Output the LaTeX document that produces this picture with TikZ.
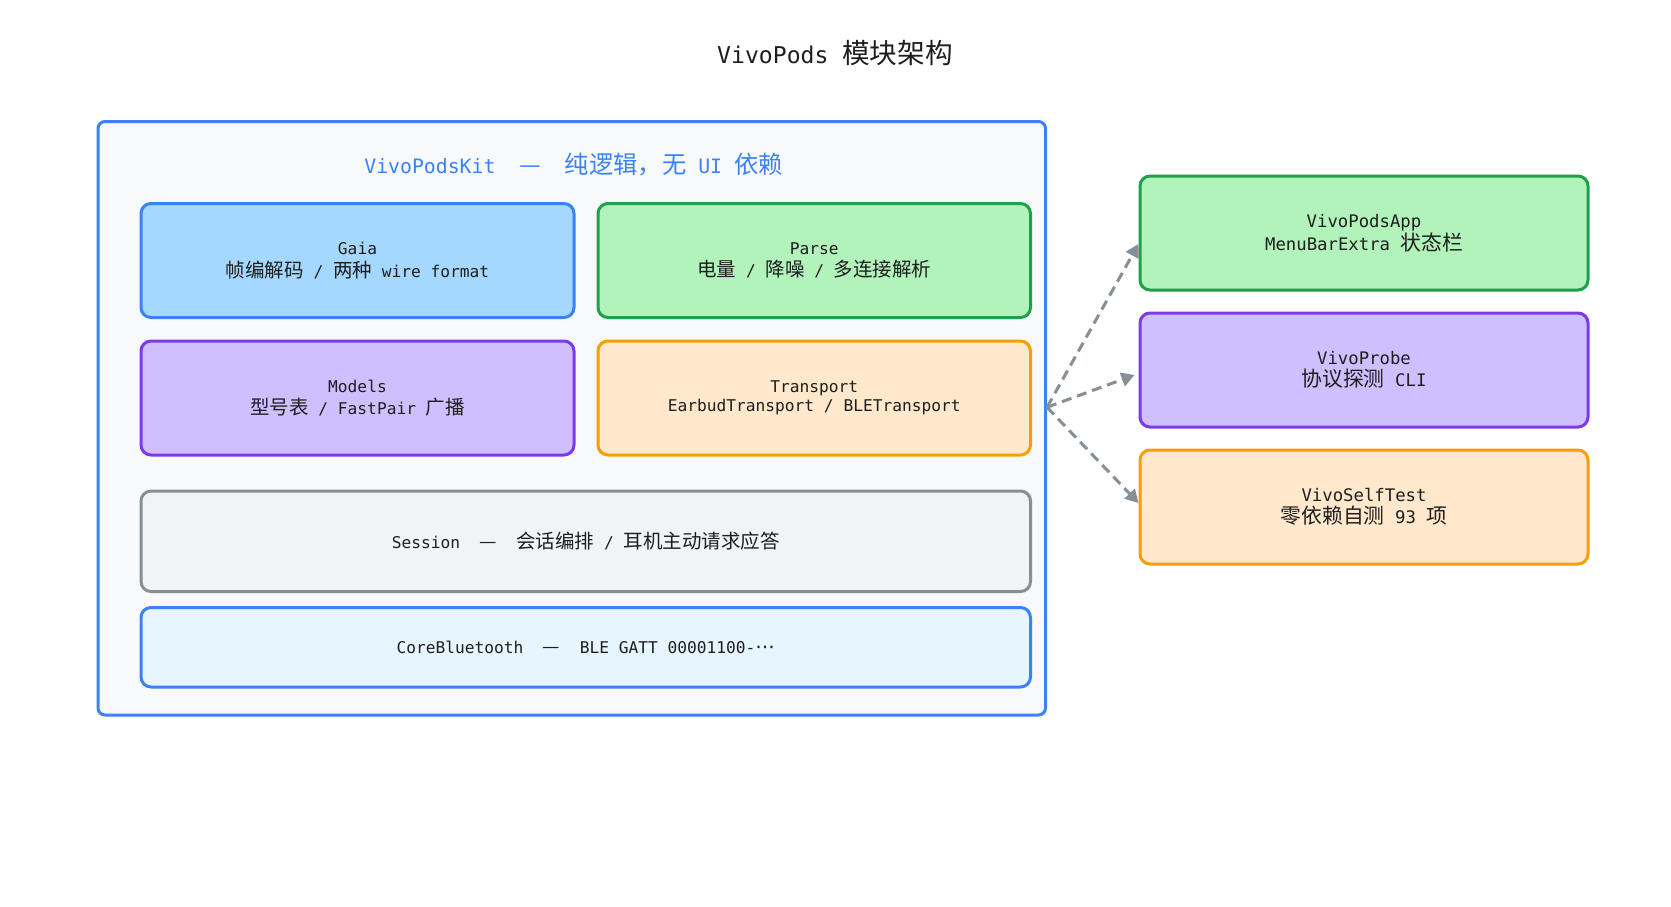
\documentclass[tikz,border=0pt]{standalone}
\usepackage{fontspec}
\setmainfont{DejaVu Sans Mono}
\newfontfamily\cjk{Noto Sans CJK SC}
\newfontfamily\dvs{DejaVu Sans}
\usetikzlibrary{arrows.meta}
\def\zhsize{19.5}
\newcommand\zh[1]{{\cjk\fontsize{\zhsize pt}{\zhsize pt}\selectfont #1}}
\definecolor{kitblue}{HTML}{3B82F6}
\definecolor{kitbg}{HTML}{F8F9FB}
\definecolor{bluefill}{HTML}{A5D8FF}
\definecolor{greenfill}{HTML}{B2F2BB}
\definecolor{greenline}{HTML}{1FA04B}
\definecolor{purplefill}{HTML}{D0BFFF}
\definecolor{purpleline}{HTML}{7C3AED}
\definecolor{orangefill}{HTML}{FFE8CC}
\definecolor{orangeline}{HTML}{F59F00}
\definecolor{grayfill}{HTML}{F1F3F5}
\definecolor{grayline}{HTML}{868E96}
\definecolor{lightfill}{HTML}{E7F5FF}
\definecolor{txt}{HTML}{1E1E1E}
\tikzset{
  box/.style={draw, line width=3pt, rounded corners=10pt, align=center, text=txt, inner sep=0pt},
  lbox/.style={box, minimum width=433pt, minimum height=114pt,
    font={\def\zhsize{19.5}\fontsize{16.2pt}{22.5pt}\selectfont}},
  wbox/.style={box, minimum width=889.5pt,
    font={\def\zhsize{19.5}\fontsize{16.2pt}{22.5pt}\selectfont}},
  rbox/.style={box, minimum width=448pt, minimum height=114pt,
    font={\def\zhsize{20.8}\fontsize{17.3pt}{22.5pt}\selectfont}},
  dep/.style={draw=grayline, line width=3pt, dash pattern=on 10pt off 6pt,
    -{Triangle[length=13pt,width=14pt]}}
}
\begin{document}
\begin{tikzpicture}[x=1pt,y=-1pt]
\useasboundingbox[fill=white] (0,0) rectangle (1671,906);
\node[text=txt, font={\def\zhsize{27.6}\fontsize{23.1pt}{28pt}\selectfont}] (title) at (835,53) {VivoPods \zh{模块架构}};
\node[draw=kitblue, fill=kitbg, line width=3pt, rounded corners=7pt, minimum width=947.5pt, minimum height=593.5pt, inner sep=0pt] (kit) at (571.75,418.25) {};
\node[text=kitblue, font={\def\zhsize{24.3}\fontsize{19.8pt}{24pt}\selectfont}] (kittitle) at (573.5,165) {VivoPodsKit~~\zh{—}~~\zh{纯逻辑，无} UI \zh{依赖}};
\node[lbox, draw=kitblue, fill=bluefill] (gaia) at (357.5,260.5) {Gaia\\\zh{帧编解码} / \zh{两种} wire format};
\node[lbox, draw=greenline, fill=greenfill, minimum width=432.5pt] (parse) at (814.25,260.5) {Parse\\\zh{电量} / \zh{降噪} / \zh{多连接解析}};
\node[lbox, draw=purpleline, fill=purplefill] (models) at (357.5,398) {Models\\\zh{型号表} / FastPair \zh{广播}};
\node[lbox, draw=orangeline, fill=orangefill, minimum width=432.5pt, font={\fontsize{16.2pt}{18.5pt}\selectfont}] (transport) at (814.25,398) {Transport\\EarbudTransport / BLETransport};
\node[wbox, draw=grayline, fill=grayfill, minimum height=100.5pt] (session) at (585.75,541.25) {Session~~\zh{—}~~\zh{会话编排} / \zh{耳机主动请求应答}};
\node[wbox, draw=kitblue, fill=lightfill, minimum height=79.5pt] (core) at (585.75,647.25) {CoreBluetooth~~\zh{—}~~BLE GATT 00001100-{\dvs\fontsize{19.5pt}{19.5pt}\selectfont ⋯}};
\node[rbox, draw=greenline, fill=greenfill] (app) at (1364,233) {VivoPodsApp\\MenuBarExtra \zh{状态栏}};
\node[rbox, draw=purpleline, fill=purplefill] (probe) at (1364,370) {VivoProbe\\\zh{协议探测} CLI};
\node[rbox, draw=orangeline, fill=orangefill] (selftest) at (1364,507) {VivoSelfTest\\\zh{零依赖自测} 93 \zh{项}};
\coordinate (src) at ([yshift=11pt]kit.east);
\draw[dep] (src) -- ([yshift=-11pt]app.west);
\draw[dep] (src) -- ([xshift=-4pt,yshift=-5pt]probe.west);
\draw[dep] (src) -- ([yshift=4pt]selftest.west);
\end{tikzpicture}
\end{document}
